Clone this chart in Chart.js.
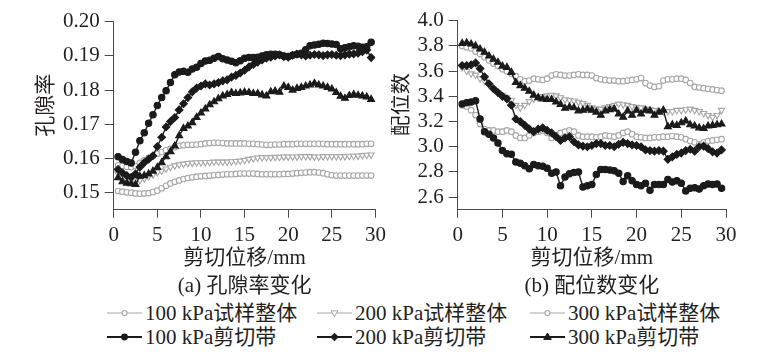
<!DOCTYPE html>
<html><head><meta charset="utf-8">
<script src="https://cdn.jsdelivr.net/npm/chart.js@4/dist/chart.umd.min.js"></script>
<style>
html,body{margin:0;padding:0;background:#fff;}
#wrap{position:relative;width:782px;height:355px;overflow:hidden;background:#fff;}
#c1{position:absolute;left:0;top:0;}
#c2{position:absolute;left:391px;top:0;}
.lg{position:absolute;height:24px;line-height:24px;font-family:'Liberation Serif','Noto Sans CJK SC',serif;font-size:21px;color:#231f20;white-space:nowrap;display:flex;align-items:center;}
.lg svg{margin-right:3px;flex:none;}
</style></head><body>
<div id="wrap">
<canvas id="c1" width="391" height="300"></canvas>
<canvas id="c2" width="391" height="300"></canvas>
<div id="legend"></div>
</div>
<script>
// shear displacement (mm)
const shearDisp = [0.5,1,1.5,2,2.5,3,3.5,4,4.5,5,5.5,6,6.5,7,7.5,8,8.5,9,9.5,10,10.5,11,11.5,12,12.5,13,13.5,14,14.5,15,15.5,16,16.5,17,17.5,18,18.5,19,19.5,20,20.5,21,21.5,22,22.5,23,23.5,24,24.5,25,25.5,26,26.5,27,27.5,28,28.5,29,29.5];

const seriesNames = ['100 kPa试样整体','200 kPa试样整体','300 kPa试样整体','100 kPa剪切带','200 kPa剪切带','300 kPa剪切带'];

// (a) porosity
const poro100Whole = [.1580,.1578,.1576,.1575,.1578,.1587,.1595,.1602,.1608,.1614,
.1619,.1624,.1628,.1633,.1637,.1639,.1640,.1640,.1641,.1642,
.1644,.1645,.1646,.1646,.1645,.1644,.1644,.1644,.1644,.1644,
.1643,.1643,.1642,.1641,.1640,.1640,.1641,.1641,.1642,.1642,
.1642,.1643,.1643,.1643,.1643,.1643,.1643,.1643,.1642,.1642,
.1642,.1642,.1642,.1642,.1642,.1642,.1642,.1643,.1643];
const poro200Whole = [.1555,.1548,.1538,.1532,.1532,.1536,.1541,.1547,.1553,.1559,
.1564,.1570,.1575,.1579,.1582,.1584,.1586,.1587,.1588,.1588,
.1589,.1589,.1590,.1590,.1590,.1590,.1591,.1592,.1593,.1595,
.1598,.1600,.1602,.1603,.1603,.1603,.1604,.1604,.1605,.1605,
.1605,.1605,.1606,.1606,.1606,.1605,.1605,.1606,.1606,.1606,
.1606,.1606,.1606,.1607,.1607,.1608,.1609,.1610,.1611];
const poro300Whole = [.1505,.1503,.1501,.1500,.1498,.1497,.1498,.1499,.1502,.1506,
.1513,.1520,.1527,.1532,.1536,.1540,.1543,.1545,.1547,.1548,
.1549,.1550,.1551,.1552,.1553,.1554,.1554,.1555,.1556,.1556,
.1556,.1556,.1555,.1554,.1554,.1554,.1554,.1554,.1555,.1555,
.1556,.1557,.1558,.1559,.1560,.1560,.1559,.1557,.1554,.1551,
.1550,.1550,.1550,.1550,.1550,.1550,.1550,.1550,.1550];
const poro100Band = [.1605,.1597,.1591,.1587,.1618,.1652,.1675,.1703,.1728,.1755,
.1778,.1798,.1822,.1845,.1853,.1855,.1852,.1862,.1867,.1878,
.1885,.1887,.1893,.1898,.1892,.1888,.1884,.1880,.1886,.1893,
.1895,.1895,.1896,.1900,.1903,.1905,.1905,.1903,.1900,.1898,
.1902,.1905,.1908,.1918,.1930,.1932,.1934,.1937,.1936,.1935,
.1933,.1921,.1924,.1927,.1930,.1928,.1925,.1927,.1940];
const poro200Band = [.1568,.1558,.1550,.1545,.1555,.1575,.1588,.1598,.1608,.1635,
.1662,.1692,.1708,.1720,.1742,.1760,.1778,.1795,.1806,.1812,
.1818,.1815,.1818,.1822,.1827,.1830,.1838,.1843,.1850,.1858,
.1868,.1875,.1882,.1888,.1893,.1896,.1900,.1903,.1898,.1896,
.1902,.1905,.1903,.1900,.1902,.1904,.1903,.1901,.1903,.1904,
.1902,.1901,.1903,.1905,.1906,.1908,.1912,.1917,.1895];
const poro300Band = [.1544,.1532,.1528,.1526,.1524,.1548,.1550,.1555,.1563,.1574,
.1588,.1605,.1620,.1637,.1667,.1688,.1695,.1705,.1720,.1733,
.1745,.1757,.1766,.1775,.1783,.1787,.1793,.1790,.1792,.1794,
.1793,.1790,.1790,.1786,.1783,.1795,.1797,.1794,.1812,.1808,
.1800,.1805,.1808,.1812,.1815,.1820,.1815,.1812,.1808,.1803,
.1793,.1782,.1776,.1784,.1787,.1785,.1783,.1780,.1773];

// (b) coordination number
const coord100Whole = [3.33,3.32,3.29,3.25,3.18,3.14,3.13,3.13,3.12,3.12,
3.13,3.12,3.09,3.07,3.07,3.09,3.11,3.12,3.13,3.11,
3.07,3.09,3.11,3.12,3.13,3.12,3.09,3.08,3.08,3.08,
3.075,3.08,3.09,3.085,3.08,3.09,3.11,3.12,3.10,3.08,
3.075,3.07,3.07,3.075,3.075,3.08,3.08,3.085,3.08,3.075,
3.06,3.045,3.035,3.02,3.035,3.045,3.05,3.055,3.06];
const coord200Whole = [3.63,3.60,3.58,3.57,3.54,3.52,3.49,3.46,3.43,3.41,
3.39,3.37,3.33,3.31,3.33,3.36,3.38,3.39,3.40,3.405,
3.41,3.405,3.39,3.375,3.37,3.365,3.355,3.345,3.33,3.31,
3.30,3.30,3.31,3.32,3.33,3.34,3.335,3.33,3.32,3.315,
3.31,3.30,3.295,3.29,3.285,3.28,3.28,3.28,3.29,3.29,
3.295,3.30,3.29,3.28,3.265,3.25,3.235,3.25,3.29];
const coord300Whole = [3.80,3.79,3.78,3.755,3.735,3.71,3.685,3.66,3.64,3.615,
3.60,3.58,3.56,3.535,3.52,3.525,3.54,3.535,3.53,3.54,
3.565,3.575,3.57,3.565,3.565,3.57,3.575,3.57,3.57,3.565,
3.545,3.535,3.53,3.525,3.525,3.52,3.52,3.525,3.53,3.535,
3.545,3.505,3.485,3.475,3.48,3.525,3.535,3.535,3.54,3.54,
3.53,3.505,3.475,3.47,3.465,3.46,3.455,3.45,3.445];
const coord100Band = [3.34,3.35,3.355,3.365,3.22,3.12,3.10,3.07,3.03,2.97,
2.945,2.94,2.88,2.87,2.85,2.825,2.86,2.85,2.845,2.83,
2.79,2.80,2.69,2.76,2.785,2.795,2.80,2.68,2.69,2.70,
2.78,2.82,2.82,2.815,2.81,2.79,2.725,2.77,2.73,2.70,
2.69,2.71,2.655,2.70,2.70,2.70,2.74,2.72,2.73,2.71,
2.65,2.67,2.675,2.665,2.69,2.705,2.70,2.705,2.67];
const coord200Band = [3.645,3.645,3.65,3.665,3.62,3.555,3.50,3.46,3.43,3.40,
3.38,3.33,3.22,3.20,3.17,3.14,3.12,3.14,3.15,3.13,
3.11,3.08,3.05,3.07,3.08,3.04,3.015,3.005,3.00,3.01,
3.025,3.025,3.01,3.01,3.00,3.02,3.035,3.025,3.015,3.01,
3.00,2.975,2.97,2.965,2.97,2.965,2.90,2.92,2.94,2.95,
2.97,2.98,2.965,3.00,3.005,2.985,2.96,2.95,2.975];
const coord300Band = [3.82,3.825,3.815,3.80,3.775,3.75,3.72,3.695,3.67,3.64,
3.63,3.59,3.51,3.485,3.465,3.44,3.41,3.39,3.38,3.375,
3.375,3.355,3.335,3.305,3.315,3.31,3.285,3.29,3.30,3.29,
3.275,3.25,3.285,3.295,3.30,3.26,3.235,3.285,3.25,3.29,
3.26,3.29,3.285,3.25,3.275,3.29,3.16,3.175,3.17,3.19,
3.205,3.175,3.165,3.15,3.145,3.165,3.17,3.175,3.18];

// ticks
const xTicks = [0,5,10,15,20,25,30];
const xTickLabels = ['0','5','10','15','20','25','30'];
const yTicksA = [0.15,0.16,0.17,0.18,0.19,0.20];
const yTickLabelsA = ['0.15','0.16','0.17','0.18','0.19','0.20'];
const yTicksB = [2.6,2.8,3.0,3.2,3.4,3.6,3.8,4.0];
const yTickLabelsB = ['2.6','2.8','3.0','3.2','3.4','3.6','3.8','4.0'];

const GRAY = '#a6a6a6', BLACK = '#1b1b1b', TEXT = '#231f20', AXIS = '#4a4a4a';
const FONT = "'Liberation Serif','Noto Sans CJK SC',serif";
const FS = 21;
Chart.defaults.font.family = FONT;
Chart.defaults.font.size = FS;
Chart.defaults.color = TEXT;

const styles = [
  {color:GRAY, style:'circle', rot:0, r:2.8, fill:'#fff', bw:1.1},
  {color:GRAY, style:'triangle', rot:180, r:3.6, fill:'#fff', bw:1.1},
  {color:GRAY, style:'circle', rot:0, r:2.8, fill:'#fff', bw:1.1},
  {color:BLACK, style:'circle', rot:0, r:3.2, fill:BLACK, bw:1.4},
  {color:BLACK, style:'rectRot', rot:0, r:3.8, fill:BLACK, bw:1.4},
  {color:BLACK, style:'triangle', rot:0, r:4.0, fill:BLACK, bw:1.4}
];

function mkDatasets(arrs){
  return arrs.map((arr,i)=>{
    const s = styles[i];
    return {
      label: seriesNames[i],
      data: shearDisp.map((x,k)=>({x:x, y:arr[k]})),
      borderColor: s.color, borderWidth: s.bw,
      pointStyle: s.style, pointRotation: s.rot, pointRadius: s.r,
      pointBackgroundColor: s.fill, pointBorderColor: s.color, pointBorderWidth: 1.1,
      tension: 0, fill: false, order: i < 3 ? 2 : 1
    };
  });
}

function mkOptions(o){
  return {
    responsive:false, animation:false, devicePixelRatio:1,
    layout:{padding:{left:0,right:o.padRight,top:o.padTop,bottom:1}},
    plugins:{
      legend:{display:false}, tooltip:{enabled:false},
      title:{display:true, position:'bottom', text:o.caption, fullSize:false,
        padding:{top:3,bottom:0}, font:{size:FS, weight:'normal', lineHeight:1.2}, color:TEXT}
    },
    scales:{
      x:{type:'linear', min:0, max:30,
        afterBuildTicks:s=>{ s.ticks = xTicks.map(v=>({value:v})); },
        afterFit:s=>{ s.height = 61; },
        ticks:{callback:(v,i)=>xTickLabels[i], padding:5, maxRotation:0, autoSkip:false, color:TEXT, font:{size:FS}},
        grid:{drawOnChartArea:false, drawTicks:true, tickLength:8, color:AXIS, lineWidth:1},
        border:{display:true, color:AXIS, width:1},
        title:{display:true, text:'剪切位移/mm', padding:{top:0,bottom:0}, font:{size:FS, lineHeight:1.2}, color:TEXT}
      },
      y:{type:'linear', min:o.ymin, max:o.ymax,
        afterBuildTicks:s=>{ s.ticks = o.yTicks.map(v=>({value:v})); },
        afterFit:s=>{ s.width = o.yWidth; },
        ticks:{callback:(v,i)=>o.yLabels[i], padding:5, autoSkip:false, color:TEXT, font:{size:FS}},
        grid:{drawOnChartArea:false, drawTicks:true, tickLength:9, color:AXIS, lineWidth:1},
        border:{display:true, color:AXIS, width:1},
        title:{display:true, text:o.yTitle, padding:{top:o.yTitlePad,bottom:0}, font:{size:FS, lineHeight:1}, color:TEXT}
      }
    }
  };
}

new Chart(document.getElementById('c1'), {
  type:'line',
  data:{datasets: mkDatasets([poro100Whole,poro200Whole,poro300Whole,poro100Band,poro200Band,poro300Band])},
  options: mkOptions({padRight:13, padTop:21.7, caption:'(a) 孔隙率变化', ymin:0.145, ymax:0.20,
    yTicks:yTicksA, yLabels:yTickLabelsA, yWidth:113.7, yTitle:'\u3000孔隙率', yTitlePad:36.2})
});
new Chart(document.getElementById('c2'), {
  type:'line',
  data:{datasets: mkDatasets([coord100Whole,coord200Whole,coord300Whole,coord100Band,coord200Band,coord300Band])},
  options: mkOptions({padRight:56, padTop:20.7, caption:'(b) 配位数变化', ymin:2.5, ymax:4.0,
    yTicks:yTicksB, yLabels:yTickLabelsB, yWidth:66.7, yTitle:'\u3000配位数', yTitlePad:0.2})
});

// HTML legend built from series definitions
const legendCols = [107, 317, 530];
const legendRows = [301, 325];
function markerSvg(s){
  const w=35, h=20, cy=10, cx=17.5;
  let m='';
  if (s.style==='circle') m = `<circle cx="${cx}" cy="${cy}" r="${s.r*0.9}" fill="${s.fill}" stroke="${s.color}" stroke-width="1.1"/>`;
  else if (s.style==='rectRot') { const r=s.r; m = `<polygon points="${cx},${cy-r} ${cx+r},${cy} ${cx},${cy+r} ${cx-r},${cy}" fill="${s.fill}" stroke="${s.color}" stroke-width="1"/>`; }
  else if (s.style==='triangle') { const r=s.r; const d = s.rot===180 ? -1 : 1;
    m = `<polygon points="${cx},${cy-d*r} ${cx+r*0.95},${cy+d*r*0.6} ${cx-r*0.95},${cy+d*r*0.6}" fill="${s.fill}" stroke="${s.color}" stroke-width="1"/>`; }
  const lw = s.color===BLACK ? 2 : 1.2;
  return `<svg width="${w}" height="${h}"><line x1="0" y1="${cy}" x2="${w}" y2="${cy}" stroke="${s.color}" stroke-width="${lw}"/>${m}</svg>`;
}
const lg = document.getElementById('legend');
seriesNames.forEach((name,i)=>{
  const d = document.createElement('div');
  d.className='lg';
  d.style.left = legendCols[i%3]+'px';
  d.style.top = legendRows[Math.floor(i/3)]+'px';
  d.innerHTML = markerSvg(styles[i]) + '<span>'+name+'</span>';
  lg.appendChild(d);
});
</script>
</body></html>
